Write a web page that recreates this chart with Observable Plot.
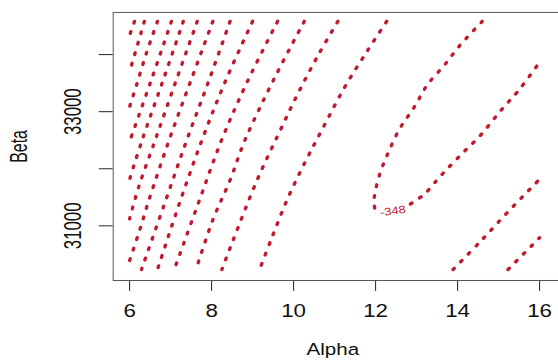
<!DOCTYPE html>
<html><head><meta charset="utf-8">
<script src="https://cdn.jsdelivr.net/npm/d3@7"></script>
<script src="https://cdn.jsdelivr.net/npm/@observablehq/plot@0.6"></script>
<style>
html,body{margin:0;padding:0;background:#fff;overflow:hidden;}
#chart{width:558px;height:362px;overflow:hidden;}
</style></head><body><div id="chart"></div>
<script>
// Axis ticks
const xTicks = [6, 8, 10, 12, 14, 16];
const yTicks = [31000, 32000, 33000, 34000];
const yTickLabels = [31000, 33000];

// Contour lines as [Alpha, Beta] points
const lineP = [[6.12,34582],[6.00,34339]];
const lineO = [[6.36,34582],[6.00,33695]];
const lineN = [[6.68,34582],[6.41,34026],[6.17,33469],[6.00,33087]];
const lineM = [[7.02,34582],[6.53,33556],[6.00,32478]];
const lineL = [[7.31,34582],[6.82,33556],[6.31,32513],[6.00,31817]];
const lineK = [[7.65,34582],[7.14,33556],[6.63,32513],[6.22,31678],[6.00,31122]];
const lineJ = [[8.03,34582],[7.50,33556],[6.97,32513],[6.48,31470],[6.24,30913],[6.00,30391]];
const lineI = [[8.45,34582],[7.94,33556],[7.40,32513],[6.85,31383],[6.29,30235]];
const lineH = [[9.00,34582],[8.35,33556],[7.77,32513],[7.21,31383],[6.68,30235]];
const lineG = [[9.61,34582],[8.88,33539],[8.25,32513],[7.67,31383],[7.09,30235]];
const lineE = [[10.26,34582],[9.56,33626],[8.81,32496],[8.45,31800],[8.03,31104],[7.62,30235]];
const lineA = [[11.08,34582],[10.60,33991],[10.09,33296],[9.66,32652],[9.12,31817],[8.52,30739],[8.25,30235]];
const lineB = [[12.27,34582],[11.81,34078],[11.25,33435],[10.67,32652],[10.29,32130],[9.85,31470],[9.46,30774],[9.17,30235]];
const lineC1 = [[14.60,34582],[14.06,34165],[13.68,33817],[13.26,33469],[12.95,33087],[12.59,32704],[12.30,32269],[12.10,31904],[11.98,31556],[11.96,31400],[12.00,31243]];
const lineC2 = [[12.85,31383],[13.19,31556],[13.58,31870],[14.06,32230],[14.55,32580],[15.03,33000],[15.52,33400],[16.00,33869]];
const lineR1 = [[13.89,30235],[14.55,30722],[15.25,31261],[16.00,31817]];
const lineR2 = [[15.23,30235],[16.00,30791]];

const contourLabels = [{alpha: 12.42, beta: 31260, text: "-348"}];

const contours = {lineP, lineO, lineN, lineM, lineL, lineK, lineJ, lineI, lineH, lineG, lineE, lineA, lineB, lineC1, lineC2, lineR1, lineR2};
const rows = [];
for (const [id, pts] of Object.entries(contours)) {
  for (const [alpha, beta] of pts) rows.push({id, alpha, beta});
}

const red = "#bf1a2f";
const font = "'Liberation Sans', Arial, Helvetica, sans-serif";

const plot = Plot.plot({
  width: 562, height: 362,
  marginLeft: 113.5, marginRight: 0, marginTop: 12, marginBottom: 80,
  style: {fontFamily: font, background: "#fff", color: "#222"},
  x: {domain: [5.6, 16.4], range: [113.5, 559.5], ticks: xTicks, tickSize: 11, tickFormat: () => "", label: null},
  y: {domain: [30043, 34739], ticks: yTicks, tickSize: 14, tickFormat: () => "", label: null},
  marks: [
    Plot.frame({stroke: "#555"}),
    Plot.line(rows, {x: "alpha", y: "beta", z: "id", stroke: red, strokeWidth: 3.4,
      strokeDasharray: "1.8,9.2", strokeLinecap: "round", curve: "catmull-rom"}),
    Plot.text(contourLabels, {x: "alpha", y: "beta", text: "text", fill: red, fontSize: 11,
      rotate: -8}),
    Plot.text(xTicks, {x: d => d, text: d => String(d), frameAnchor: "bottom", dy: 31.5,
      lineAnchor: "middle", fontSize: 18, fill: "#111"}),
    Plot.text(yTickLabels, {y: d => d, text: d => String(d), frameAnchor: "left", dx: -40,
      rotate: -90, lineAnchor: "middle", fontSize: 23.5, fill: "#111"}),
    Plot.text(["Alpha"], {text: d => d, frameAnchor: "bottom", dx: -3, dy: 69,
      lineAnchor: "middle", fontSize: 17.5, fill: "#111"}),
    Plot.text(["Beta"], {text: d => d, frameAnchor: "left", dx: -94.5, rotate: -90,
      lineAnchor: "middle", fontSize: 24, fill: "#111"})
  ]
});

// Horizontal stretch of the reference's lettering, via textLength (kept centred)
const lengths = new Map();
xTicks.forEach(t => lengths.set(String(t), 12.5 * String(t).length));
yTickLabels.forEach(t => lengths.set(String(t), 47));
contourLabels.forEach(d => lengths.set(d.text, 26));
lengths.set("Alpha", 53);
lengths.set("Beta", 33);
d3.select(plot).selectAll("text").each(function() {
  const t = this.textContent.trim();
  if (lengths.has(t)) {
    const L = lengths.get(t);
    this.setAttribute("textLength", L);
    this.setAttribute("lengthAdjust", "spacingAndGlyphs");
    this.setAttribute("text-anchor", "start");
    this.setAttribute("dx", -L / 2);
  }
});

document.getElementById("chart").appendChild(plot);
</script></body></html>
